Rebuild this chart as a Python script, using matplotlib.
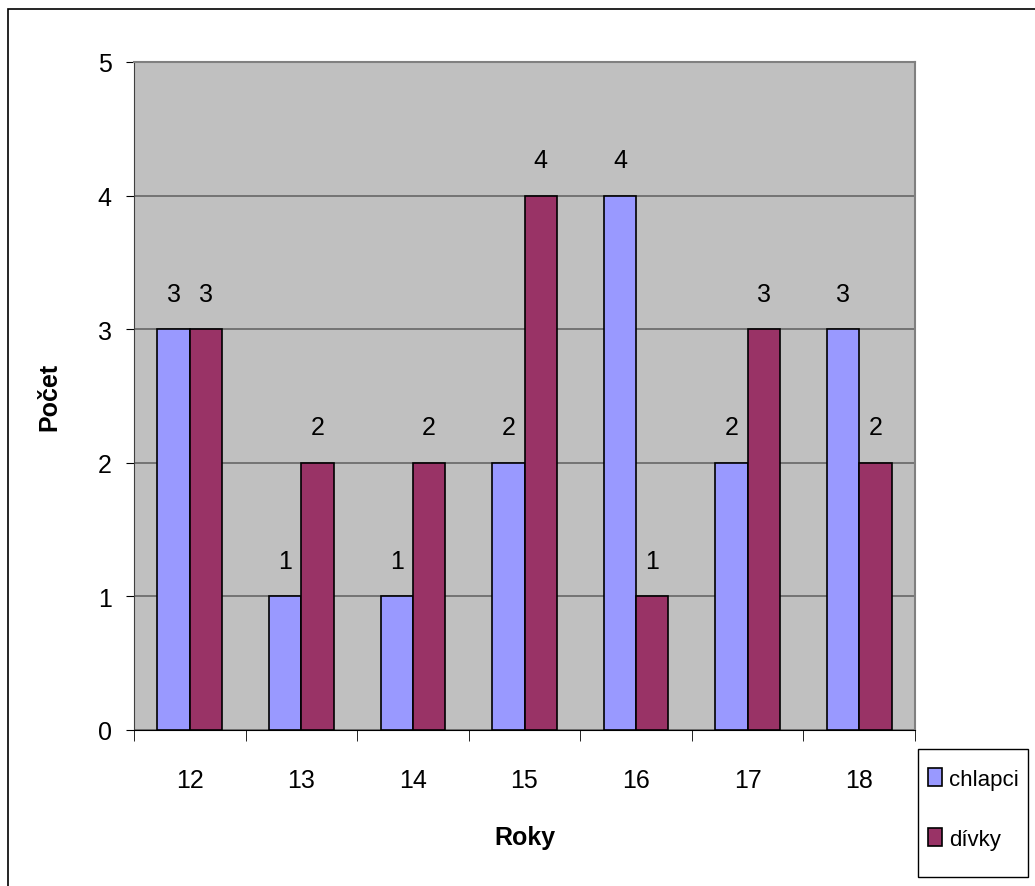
import matplotlib
matplotlib.use("Agg")
from matplotlib import pyplot as plt
from matplotlib.patches import Rectangle
import numpy as np

years = ["12", "13", "14", "15", "16", "17", "18"]
chlapci = [3, 1, 1, 2, 4, 2, 3]
divky = [3, 2, 2, 4, 1, 3, 2]
series_names = ["chlapci", "dívky"]
colors = ["#9999FF", "#993366"]

plt.rcParams['font.family'] = ['Liberation Sans Narrow', 'Liberation Sans', 'DejaVu Sans']
FS = 18

W, H = 1035, 887
fig = plt.figure(figsize=(W / 100, H / 100), dpi=100)
ax = fig.add_axes([134 / W, 1 - 731 / H, (915 - 134) / W, (731 - 63) / H])
ax.set_facecolor("#C0C0C0")

x = np.arange(len(years))
bw = 0.29
b1 = ax.bar(x - bw / 2, chlapci, bw, color=colors[0], edgecolor="black", linewidth=1.2, label=series_names[0], zorder=3)
b2 = ax.bar(x + bw / 2, divky, bw, color=colors[1], edgecolor="black", linewidth=1.2, label=series_names[1], zorder=3)
for bars in (b1, b2):
    ax.bar_label(bars, padding=17, fontsize=FS)

ax.set_xlim(-0.5, len(years) - 0.5)
ax.set_ylim(0, 5)
ax.set_yticks(range(6))
ax.yaxis.grid(True, color="#666666", linewidth=1.2, zorder=0)
ax.set_axisbelow(True)

ax.set_xticks(x)
ax.set_xticklabels(years)
ax.set_xticks(np.arange(-0.5, len(years)), minor=True)
ax.tick_params(axis="x", which="major", length=0, labelsize=FS, pad=27)
ax.tick_params(axis="x", which="minor", length=8, direction="out", color="black")
ax.tick_params(axis="y", length=6, labelsize=FS, pad=10, direction="out", color="black")

for s in ("top", "right"):
    ax.spines[s].set_color("#808080")
    ax.spines[s].set_linewidth(1.5)
ax.spines["left"].set_color("#404040")
ax.spines["bottom"].set_color("black")

ax.set_ylabel("Počet", fontsize=FS, fontweight="bold", labelpad=26)
ax.set_xlabel("Roky", fontsize=FS, fontweight="bold", labelpad=24)

# legend box drawn separately so its size matches the original
fig.patches.append(Rectangle((918 / W, 1 - 878 / H), 110 / W, 128 / H, transform=fig.transFigure,
                             fill=False, edgecolor="black", linewidth=1))
fig.legend(handles=[b1, b2], labels=series_names, loc="center",
           bbox_to_anchor=(973 / W, 1 - 810 / H), fontsize=16, frameon=False,
           handlelength=0.65, handleheight=0.85, handletextpad=0.3,
           labelspacing=1.75, borderpad=0, borderaxespad=0)

fig.patches.append(Rectangle((8 / W, -0.1), 1.2, 1 - 10 / H + 0.1, transform=fig.transFigure,
                             fill=False, edgecolor="black", linewidth=1.2))

fig.savefig("out.png", dpi=100)
